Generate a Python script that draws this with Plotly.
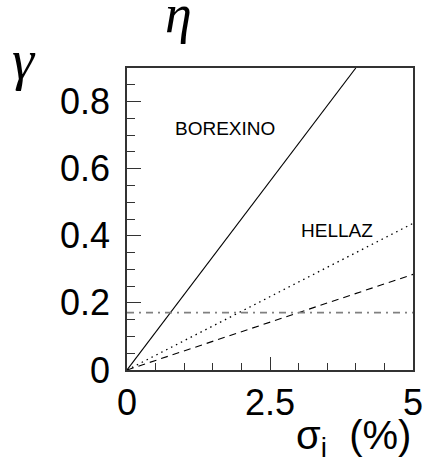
import plotly.graph_objects as go

# sigma_i (%) vs gamma/eta
borexino_x = [0, 4.0]
borexino_y = [0, 0.9]
hellaz_dot_x = [0, 5]
hellaz_dot_y = [0, 0.437]
hellaz_dash_x = [0, 5]
hellaz_dash_y = [0, 0.285]
limit_x = [0, 5]
limit_y = [0.171, 0.171]

xtick_vals = [0, 2.5, 5]
xtick_text = ["0", "2.5", "5"]
ytick_vals = [0, 0.2, 0.4, 0.6, 0.8]
ytick_text = ["0", "0.2", "0.4", "0.6", "0.8"]

labels = ["BOREXINO", "HELLAZ"]
label_x = [1.71, 3.67]
label_y = [0.72, 0.417]

AXIS = "#333333"
FONT = "Liberation Sans, Arial, sans-serif"

fig = go.Figure()
fig.add_trace(go.Scatter(x=borexino_x, y=borexino_y, mode="lines",
                         line=dict(color="black", width=1.1, dash="solid")))
fig.add_trace(go.Scatter(x=hellaz_dot_x, y=hellaz_dot_y, mode="lines",
                         line=dict(color="black", width=1.3, dash="1.5px,4px")))
fig.add_trace(go.Scatter(x=hellaz_dash_x, y=hellaz_dash_y, mode="lines",
                         line=dict(color="black", width=1.1, dash="7px,5px")))
fig.add_trace(go.Scatter(x=limit_x, y=limit_y, mode="lines",
                         line=dict(color="#808080", width=1.8,
                                   dash="7px,5px,2px,5px")))

for t, x, y in zip(labels, label_x, label_y):
    fig.add_annotation(x=x, y=y, text=t, showarrow=False,
                       font=dict(family=FONT, size=19, color="black"))

# greek axis symbols and x title
fig.add_annotation(x=-0.41, y=1.025, xref="paper", yref="paper", text="<i>γ</i>",
                   showarrow=False, xanchor="left", yanchor="middle",
                   font=dict(family="Liberation Serif", size=56, color="black"))
fig.add_annotation(x=0.125, y=1.18, xref="paper", yref="paper", text="<i>η</i>",
                   showarrow=False, xanchor="left", yanchor="middle",
                   font=dict(family="Liberation Serif", size=54, color="black"))
fig.add_annotation(x=1.0, y=-0.225, xref="paper", yref="paper",
                   text="σ<sub>i</sub>  (%)", showarrow=False,
                   xanchor="right", yanchor="middle",
                   font=dict(family=FONT, size=40, color="black"))

fig.update_xaxes(range=[0, 5], tickmode="array", tickvals=xtick_vals,
                 ticktext=xtick_text, ticks="inside", ticklen=13,
                 tickcolor=AXIS, tickwidth=1.2, showline=True, linecolor=AXIS,
                 linewidth=1.5, mirror=True, showgrid=False, zeroline=False,
                 automargin=False,
                 tickfont=dict(family=FONT, size=36, color="black"),
                 minor=dict(dtick=0.5, ticks="inside", ticklen=7,
                            tickcolor=AXIS, showgrid=False))
fig.update_yaxes(range=[0, 0.9], tickmode="array", tickvals=ytick_vals,
                 ticktext=ytick_text, ticks="inside", ticklen=14,
                 tickcolor=AXIS, tickwidth=1.2, showline=True, linecolor=AXIS,
                 linewidth=1.5, mirror=True, showgrid=False, zeroline=False,
                 automargin=False, ticklabelstandoff=8,
                 tickfont=dict(family=FONT, size=36, color="black"),
                 minor=dict(dtick=0.05, ticks="inside", ticklen=8,
                            tickcolor=AXIS, showgrid=False))

fig.update_layout(width=429, height=465, autosize=False, showlegend=False,
                  paper_bgcolor="white", plot_bgcolor="white",
                  margin=dict(l=127, r=16, t=68, b=95, pad=0))

fig.write_html("out.html", config={"displayModeBar": False},
               post_script="document.body.style.margin='0';")
